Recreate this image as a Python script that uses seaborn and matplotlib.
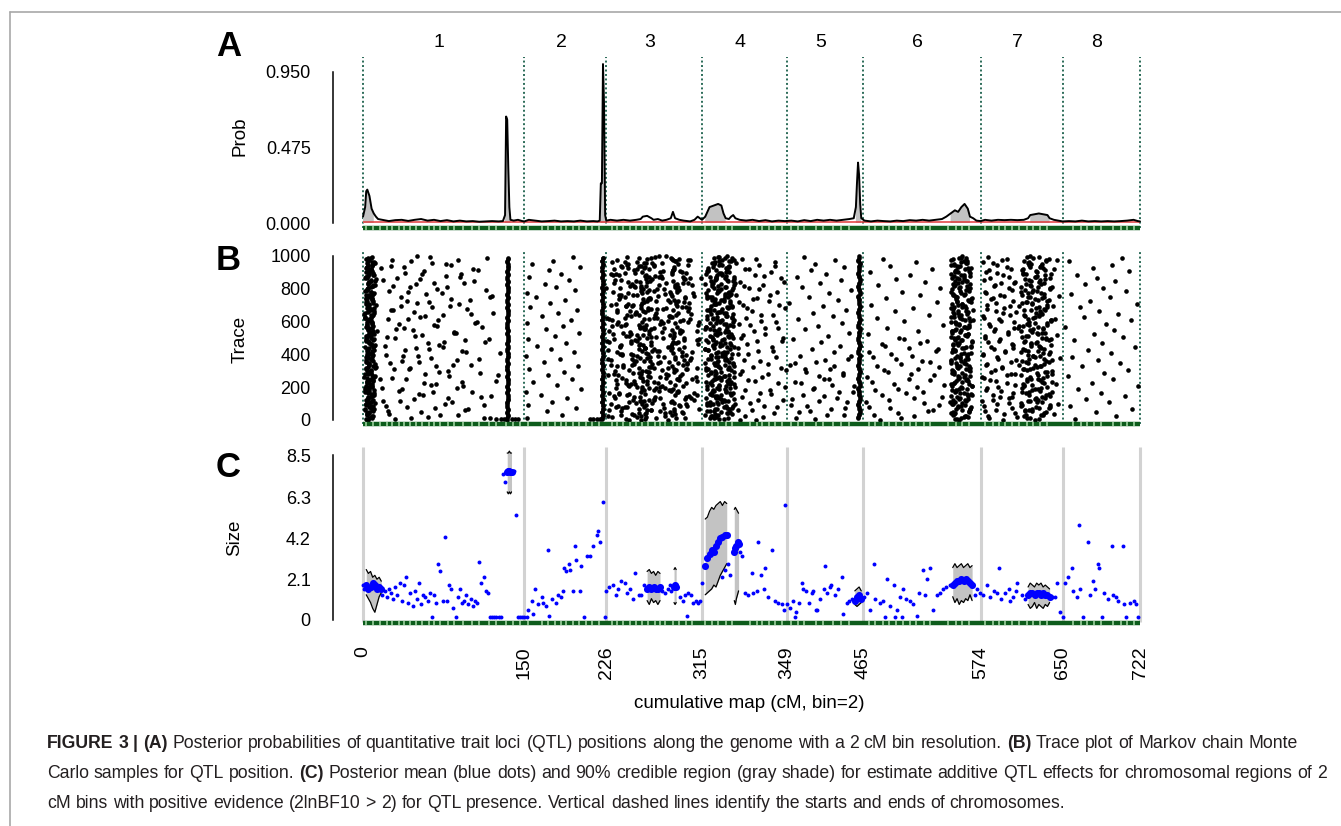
import numpy as np
import pandas as pd
import matplotlib
matplotlib.use("Agg")
import matplotlib.pyplot as plt
from matplotlib.lines import Line2D
import seaborn as sns

# chromosome boundaries (cM); the figure prints "349" at the 394 cM boundary
chrom_bounds = [0, 150, 226, 315, 394, 465, 574, 650, 722]
bound_labels = ["0", "150", "226", "315", "349", "465", "574", "650", "722"]
chrom_names = ["1", "2", "3", "4", "5", "6", "7", "8"]

# marker positions drawn in the green rug (cM)
marker_cm = [3, 9, 16, 22, 27, 33, 38, 44, 49, 55, 61, 66, 72, 79, 85, 93, 101, 108, 117, 124,
             133, 139, 146, 153, 166, 172, 178, 184, 189, 195, 201, 207, 213, 219, 231, 236, 242,
             248, 254, 259, 265, 271, 276, 281, 288, 294, 300, 306, 318, 324, 330, 337, 343, 360,
             366, 371, 377, 383, 389, 398, 404, 410, 421, 427, 437, 444, 452, 470, 476, 483, 489,
             495, 502, 508, 514, 521, 527, 544, 551, 557, 563, 578, 585, 591, 597, 603, 610, 617,
             623, 629, 636, 660, 667, 673, 679, 686, 697, 704, 710, 716]

# ---- panel A: posterior probability of a QTL per position ----
prob_cm = [0, 2, 3, 4, 5, 6, 7, 8, 10, 12, 14, 18, 24, 30, 36, 42, 48, 54, 60, 66,
           72, 78, 84, 90, 96, 102, 108, 114, 120, 126, 130, 132, 133, 134, 135, 136, 137, 140, 144, 148, 150,
           154, 160, 166, 172, 178, 184, 190, 196, 202, 208, 214, 218, 220, 221, 222, 223, 224, 225, 226,
           230, 236, 242, 248, 254, 258, 260, 264, 268, 270, 274, 278, 282, 286, 288, 290, 294, 298, 304, 308, 311, 313, 315,
           318, 320, 322, 326, 330, 333, 335, 337, 340, 342, 344, 346, 350, 356, 362, 368, 374, 380, 386, 392,
           398, 404, 410, 416, 422, 428, 434, 440, 446, 452, 456, 458, 459, 460, 461, 462, 463, 466,
           472, 478, 484, 490, 496, 502, 508, 514, 520, 526, 532, 538, 542, 546, 550, 553, 556, 559, 562, 564, 567, 570, 574,
           578, 584, 590, 596, 602, 608, 614, 618, 620, 624, 628, 632, 636, 638, 642, 646, 650,
           656, 662, 668, 674, 680, 686, 692, 698, 704, 710, 716, 720, 722]
prob_val = [0.04, 0.1, 0.2, 0.21, 0.19, 0.17, 0.13, 0.09, 0.06, 0.04, 0.025, 0.02, 0.012, 0.018, 0.02, 0.013, 0.02, 0.025, 0.015, 0.02,
            0.012, 0.018, 0.01, 0.015, 0.01, 0.012, 0.008, 0.01, 0.012, 0.01, 0.012, 0.05, 0.67, 0.65, 0.35, 0.1, 0.02, 0.015, 0.02, 0.012, 0.01,
            0.02, 0.015, 0.01, 0.012, 0.015, 0.01, 0.012, 0.01, 0.015, 0.01, 0.012, 0.01, 0.015, 0.25, 0.25, 1.0, 0.74, 0.05, 0.015,
            0.02, 0.015, 0.02, 0.015, 0.02, 0.025, 0.04, 0.045, 0.03, 0.02, 0.025, 0.015, 0.02, 0.03, 0.07, 0.03, 0.02, 0.015, 0.01, 0.02, 0.04, 0.03, 0.02,
            0.04, 0.07, 0.1, 0.11, 0.12, 0.11, 0.06, 0.03, 0.025, 0.04, 0.05, 0.03, 0.02, 0.015, 0.02, 0.012, 0.018, 0.01, 0.015, 0.012,
            0.015, 0.01, 0.018, 0.012, 0.02, 0.015, 0.02, 0.015, 0.02, 0.025, 0.03, 0.1, 0.25, 0.38, 0.3, 0.12, 0.03, 0.015,
            0.01, 0.015, 0.012, 0.01, 0.015, 0.012, 0.018, 0.015, 0.02, 0.015, 0.02, 0.025, 0.04, 0.06, 0.08, 0.07, 0.1, 0.12, 0.09, 0.04, 0.03, 0.015, 0.012,
            0.02, 0.015, 0.02, 0.018, 0.02, 0.018, 0.02, 0.03, 0.05, 0.055, 0.06, 0.055, 0.05, 0.03, 0.02, 0.015, 0.01,
            0.012, 0.01, 0.015, 0.01, 0.012, 0.01, 0.012, 0.01, 0.012, 0.015, 0.02, 0.012, 0.01]
prior_prob = 0.008
shade_from = [0, 132, 221, 318, 457, 546, 619]
shade_to = [10, 137, 225, 337, 463, 566, 638]

# ---- panel B: sampled QTL positions (cM), one value per 20 iterations ----
tr_chr1_peak_a = [5, 7, 4, 8, 6, 3, 9, 5, 7, 2, 6, 8, 4, 10, 5, 7, 3, 6, 9, 5, 4, 8, 6, 11, 3, 7, 5, 9, 6, 4,
                  8, 2, 7, 5, 10, 6, 3, 8, 5, 7, 4, 9, 6, 12, 5, 3, 7, 8, 4, 6]
tr_chr1_peak_b = [8, 4, 6, 10, 3, 7, 5, 9, 2, 6, 8, 4, 7, 11, 5, 3, 9, 6, 7, 4, 8, 5, 10, 6, 3, 7, 9, 5, 4, 8,
                  6, 2, 10, 7, 5, 3, 8, 6, 9, 4, 7, 5, 11, 3, 6, 8, 4, 9, 5, 7]
tr_chr1_peak_c = [3, 9, 6, 2, 7, 11, 4, 8, 5, 10, 3, 6, 9, 1, 7, 4, 12, 5, 8, 3, 6, 10, 2, 7, 9, 4, 6, 13, 3, 8,
                  5, 7, 1, 10, 4, 6, 9, 3, 8, 2, 5, 11, 7, 4, 9, 6, 3, 8, 10, 5]
tr_chr1_peak_d = [6, 4, 9, 7, 3, 8, 5, 10, 6, 2, 7, 9, 4, 8, 5, 11, 6, 3, 7, 9, 5, 4, 8, 6, 10, 3, 7, 5, 9, 4,
                  6, 8, 2, 7, 5, 9, 3, 6, 10, 4, 8, 5, 7, 3, 9, 6, 4, 11, 5, 8]
tr_chr1_peak_e = [4, 8, 5, 2, 9, 6, 3, 7, 10, 5, 8, 4, 6, 9, 2, 7, 5, 11, 3, 8, 6, 4, 9, 7, 5, 3, 10, 6, 8, 4,
                  7, 2, 9, 5, 6, 12, 4, 8, 3, 7, 5, 9, 6, 2, 10, 4, 7, 5, 8, 3]
tr_chr1_a = [45, 88, 23, 67, 112, 34, 79, 56, 101, 18, 63, 92, 40, 125, 71, 29, 84, 52, 108, 37, 96, 61, 20, 75, 117,
             48, 86, 31, 69, 104, 42, 58, 121, 26, 81, 50, 99, 35, 73, 114, 44, 66, 19, 90, 55, 107, 38, 77, 27, 62]
tr_chr1_b = [30, 72, 54, 98, 21, 83, 47, 119, 65, 36, 93, 57, 16, 80, 109, 43, 68, 25, 87, 51, 127, 39, 74, 60, 95,
             22, 85, 46, 111, 33, 70, 53, 100, 28, 64, 89, 41, 118, 59, 24, 78, 49, 103, 32, 91, 57, 17, 82, 45, 115]
tr_chr1_c = [60, 24, 95, 41, 76, 19, 110, 52, 33, 87, 68, 124, 27, 58, 79, 44, 100, 36, 63, 21, 92, 49, 71, 113, 30,
             55, 85, 38, 66, 106, 23, 74, 47, 97, 35, 61, 82, 120, 42, 69, 28, 94, 53, 77, 39, 102, 26, 64, 88, 50]
tr_q1 = [134, 135, 134, 135, 134, 134, 135, 135, 134, 135, 134, 135, 135, 134, 135, 134, 134, 135, 134, 135,
         135, 134, 135, 134, 135, 135, 134, 135, 134, 134, 135, 134, 135, 135, 134, 135, 134, 135, 134, 135,
         135, 134, 135, 134, 135, 134, 135, 135, 134, 135]
tr_chr2 = [152, 185, 171, 198, 153, 176, 190, 165, 151, 203, 180, 158, 194, 172, 187, 154, 200, 168, 183, 151,
           196, 175, 162, 189, 153, 178, 201, 170, 186, 152, 193, 166, 181, 199, 155, 174, 188, 161, 152, 197,
           179, 169, 191, 154, 184, 173, 202, 157, 177, 195]
tr_q2 = [222, 223, 222, 223, 223, 222, 223, 222, 223, 222, 222, 223, 222, 223, 223, 222, 223, 222, 222, 223,
         223, 222, 223, 222, 223, 222, 223, 223, 222, 223, 222, 223, 222, 222, 223, 223, 222, 223, 222, 223,
         222, 223, 223, 222, 223, 222, 222, 223, 222, 223]
tr_chr3_a = [231, 262, 289, 245, 300, 257, 276, 238, 293, 266, 249, 310, 259, 283, 234, 270, 297, 252, 264, 241,
             306, 287, 260, 229, 279, 255, 295, 268, 243, 302, 261, 285, 236, 273, 250, 291, 265, 308, 246, 280,
             258, 233, 298, 271, 253, 288, 240, 263, 304, 275]
tr_chr3_b = [258, 263, 256, 268, 261, 259, 266, 257, 262, 270, 255, 264, 260, 267, 258, 263, 256, 269, 261, 257,
             265, 259, 262, 268, 255, 264, 260, 266, 257, 263, 259, 270, 256, 262, 265, 258, 261, 267, 255, 264,
             260, 263, 257, 269, 262, 259, 266, 256, 261, 264]
tr_chr3_c = [291, 287, 296, 289, 294, 286, 299, 290, 293, 288, 297, 285, 292, 295, 289, 300, 287, 293, 290, 296,
             288, 294, 286, 291, 298, 289, 295, 287, 292, 290, 297, 285, 293, 288, 296, 291, 289, 299, 286, 294,
             290, 292, 288, 297, 287, 295, 289, 293, 291, 286]
tr_chr3_d = [244, 228, 281, 312, 237, 269, 251, 303, 229, 284, 247, 274, 235, 309, 256, 278, 242, 301, 230, 267,
             249, 286, 239, 311, 253, 272, 232, 296, 260, 244, 277, 227, 305, 248, 282, 235, 264, 299, 240, 270,
             226, 290, 254, 314, 238, 276, 246, 302, 231, 268]
tr_chr3_e = [272, 250, 240, 280, 230, 258, 305, 245, 275, 235, 290, 252, 282, 228, 266, 310, 242, 276, 250, 300,
             236, 270, 256, 288, 233, 247, 278, 262, 240, 312, 229, 284, 254, 268, 244, 303, 238, 274, 259, 292,
             248, 282, 234, 266, 300, 252, 241, 278, 288, 245]
tr_chr3_f = [247, 281, 263, 229, 295, 254, 308, 271, 238, 286, 259, 300, 244, 276, 233, 291, 266, 252, 304, 280,
             241, 269, 298, 257, 227, 288, 249, 310, 262, 236, 283, 273, 245, 302, 258, 230, 293, 267, 251, 285,
             239, 306, 264, 278, 232, 296, 255, 270, 243, 287]
tr_chr3_g = [299, 252, 276, 241, 263, 287, 234, 310, 258, 281, 246, 270, 293, 237, 265, 301, 250, 284, 228, 274,
             296, 256, 239, 268, 312, 244, 289, 261, 231, 279, 304, 249, 272, 236, 292, 259, 283, 243, 307, 266,
             253, 297, 240, 275, 230, 288, 262, 246, 302, 271]
tr_chr3_h = [262, 240, 285, 256, 301, 247, 270, 233, 292, 259, 278, 244, 306, 265, 251, 289, 236, 274, 298, 255,
             263, 228, 283, 249, 310, 268, 242, 295, 257, 276, 231, 287, 253, 265, 300, 246, 272, 239, 281, 258,
             293, 250, 267, 304, 235, 279, 261, 245, 290, 256]
tr_chr3_i = [255, 290, 268, 235, 279, 261, 300, 247, 286, 272, 253, 264, 241, 296, 259, 283, 230, 267, 305, 251,
             275, 262, 240, 293, 256, 285, 248, 270, 311, 237, 266, 291, 254, 279, 244, 298, 260, 287, 232, 273,
             252, 302, 263, 277, 243, 289, 258, 269, 236, 282]
tr_chr3_j = [283, 258, 297, 264, 243, 289, 270, 252, 308, 261, 276, 236, 294, 257, 282, 247, 268, 301, 254, 290,
             239, 273, 262, 287, 249, 298, 266, 229, 280, 256, 295, 243, 271, 260, 303, 251, 285, 266, 238, 292,
             258, 275, 246, 299, 263, 287, 233, 270, 255, 294]
tr_chr4_a = [322, 330, 326, 338, 320, 334, 328, 342, 324, 336, 331, 319, 340, 327, 333, 321, 345, 329, 337, 323,
             335, 318, 332, 341, 325, 339, 330, 322, 344, 328, 334, 320, 337, 326, 343, 331, 324, 339, 329, 321,
             336, 333, 327, 345, 319, 338, 325, 332, 340, 330]
tr_chr4_b = [335, 324, 341, 329, 337, 322, 333, 327, 344, 320, 331, 339, 326, 336, 323, 342, 330, 318, 338, 328,
             334, 321, 345, 332, 325, 340, 327, 337, 319, 335, 329, 343, 323, 333, 338, 326, 341, 322, 336, 330,
             344, 324, 339, 328, 334, 320, 337, 331, 342, 326]
tr_chr4_c = [328, 343, 320, 335, 325, 339, 331, 322, 337, 329, 345, 324, 333, 340, 327, 319, 336, 330, 342, 323,
             338, 326, 334, 321, 344, 329, 336, 318, 341, 332, 325, 338, 330, 322, 343, 327, 335, 320, 339, 333,
             324, 346, 328, 337, 331, 321, 340, 326, 334, 338]
tr_chr4_d = [350, 372, 338, 361, 385, 346, 367, 328, 379, 355, 392, 341, 364, 331, 376, 352, 388, 344, 369, 336,
             358, 381, 348, 325, 366, 390, 353, 339, 374, 360, 384, 343, 370, 332, 357, 387, 349, 362, 378, 340,
             368, 354, 391, 345, 373, 337, 359, 383, 347, 365]
tr_chr4_e = [326, 318, 333, 340, 322, 329, 345, 324, 337, 331, 320, 342, 327, 335, 323, 339, 330, 344, 321, 334,
             328, 341, 325, 336, 319, 343, 332, 326, 338, 322, 345, 329, 335, 320, 340, 327, 333, 324, 342, 330,
             337, 318, 344, 328, 334, 321, 339, 326, 331, 336]
tr_chr4_f = [331, 323, 339, 327, 344, 320, 335, 329, 341, 325, 337, 322, 333, 345, 328, 319, 340, 326, 336, 330,
             343, 321, 338, 327, 334, 324, 342, 329, 319, 337, 332, 325, 344, 322, 339, 328, 335, 320, 341, 331,
             326, 345, 323, 336, 329, 340, 321, 334, 327, 343]
tr_chr4_g = [339, 327, 322, 343, 330, 336, 319, 333, 326, 341, 324, 338, 329, 321, 345, 332, 327, 340, 323, 336,
             330, 318, 342, 328, 335, 322, 339, 331, 325, 344, 320, 337, 329, 334, 323, 341, 327, 336, 319, 343,
             330, 325, 338, 322, 333, 328, 340, 324, 345, 331]
tr_chr4_h = [365, 355, 382, 348, 373, 360, 390, 352, 369, 378, 346, 386, 358, 371, 350, 393, 362, 376, 354, 384,
             348, 367, 380, 357, 389, 351, 374, 363, 386, 349, 370, 356, 381, 361, 392, 353, 377, 366, 347, 385,
             359, 372, 350, 388, 364, 379, 355, 368, 383, 352]
tr_chr5_a = [402, 431, 415, 448, 398, 424, 440, 409, 455, 419, 436, 401, 428, 446, 412, 434, 397, 421, 451, 406,
             438, 417, 443, 426, 400, 432, 452, 411, 423, 445, 404, 437, 418, 449, 427, 396, 441, 414, 433, 453,
             408, 425, 444, 403, 430, 416, 447, 420, 439, 410]
tr_chr5_b = [420, 447, 405, 435, 413, 450, 399, 428, 442, 418, 456, 407, 433, 424, 446, 411, 438, 401, 429, 453]
tr_q5 = [460, 461, 462, 461, 460, 461, 462, 461, 461, 460, 462, 461, 460, 461, 462, 461, 460, 461, 461, 462,
         460, 461, 462, 461, 460, 461, 461, 462, 460, 461, 462, 461, 460, 461, 462, 461, 461, 460, 462, 461,
         460, 461, 462, 461, 460, 461, 461, 462, 460, 461]
tr_chr6_a = [480, 512, 497, 530, 470, 521, 489, 538, 505, 476, 515, 493, 527, 468, 509, 484, 535, 500, 519, 474,
             491, 532, 507, 482, 524, 498, 469, 516, 487, 539, 503, 478, 526, 494, 511, 472, 533, 486, 518, 501,
             536, 479, 522, 495, 508, 471, 529, 490, 514, 483]
tr_chr6_b = [500, 475, 525, 490, 535, 467, 512, 482, 520, 497, 540, 473, 507, 531, 488, 516, 478, 527, 495, 510,
             470, 534, 485, 518, 503]
tr_chr6_band_a = [552, 560, 548, 564, 556, 550, 562, 546, 558, 554, 566, 549, 561, 553, 557, 547, 563, 551, 559, 555,
                  565, 548, 560, 552, 556, 546, 562, 550, 558, 554, 567, 549, 561, 553, 557, 547, 563, 551, 559, 555,
                  564, 548, 560, 552, 556, 550, 562, 546, 558, 554]
tr_chr6_band_b = [558, 549, 563, 553, 547, 560, 555, 565, 551, 557, 546, 562, 554, 559, 548, 564, 552, 556, 550, 561,
                  547, 558, 553, 566, 549, 560, 555, 551, 563, 546, 557, 554, 562, 548, 559, 552, 565, 550, 556, 547,
                  561, 553, 558, 549, 564, 551, 555, 560, 546, 557]
tr_chr6_band_c = [554, 562, 550, 557, 565, 548, 559, 552, 561, 547, 556, 563, 551, 558, 549, 564, 553, 560, 546, 555,
                  562, 550, 557, 548, 566, 552, 559, 547, 561, 554, 550, 563, 556, 548, 560, 553, 565, 551, 558, 546,
                  562, 549, 557, 554, 564, 550, 559, 552, 561, 548]
tr_chr6_band_d = [556, 548, 563, 551, 559, 545, 554, 566, 550, 561, 547, 557, 553, 564, 549, 560, 555, 546, 562, 552,
                  558, 548, 565, 554, 550, 561, 547, 556, 563, 551, 559, 546, 553, 567, 549, 557, 562, 552, 548, 560,
                  555, 564, 550, 558, 546, 563, 553, 549, 561, 556]
tr_chr6_band_e = [550, 559, 546, 564, 553, 557, 548, 562, 555, 551, 566, 549, 560, 554, 547, 563, 552, 558, 546, 561,
                  556, 550, 565, 548, 557, 553, 562, 547, 559, 551, 564, 555, 549, 560, 546, 557, 552, 566, 548, 563,
                  554, 550, 561, 547, 558, 553, 565, 549, 556, 560]
tr_chr7_a = [582, 596, 578, 603, 589, 575, 600, 585, 593, 580, 606, 588, 577, 598, 584, 594, 579, 602, 590, 576,
             597, 586, 604, 581, 592, 578, 599, 587, 583, 605, 591, 576, 595, 580, 601, 588, 584, 596, 579, 603,
             586, 593, 577, 600, 589, 582, 598, 585, 594, 581]
tr_chr7_b = [595, 581, 606, 588, 577, 600, 585, 592, 604, 579, 590, 598, 583, 575, 602, 587, 594, 580, 607, 589,
             576, 597, 584, 603, 591, 578, 599, 586, 605, 582, 593, 577, 601, 588, 596, 580, 604, 585, 592, 578,
             600, 587, 606, 583, 595, 579, 602, 589, 576, 598]
tr_chr7_band_a = [620, 632, 615, 628, 638, 618, 625, 635, 612, 630, 622, 640, 617, 627, 634, 614, 624, 637, 619, 629,
                  611, 633, 621, 626, 639, 616, 631, 623, 613, 636, 618, 628, 625, 634, 610, 622, 637, 620, 630, 615,
                  627, 633, 619, 624, 639, 612, 629, 621, 635, 617]
tr_chr7_band_b = [628, 616, 635, 622, 611, 631, 624, 638, 619, 627, 614, 633, 621, 636, 626, 613, 630, 618, 640, 623,
                  632, 615, 629, 625, 637, 612, 634, 620, 627, 617, 639, 624, 631, 614, 628, 622, 636, 618, 633, 626,
                  611, 630, 621, 638, 616, 625, 632, 619, 635, 623]
tr_chr7_band_c = [608, 642, 615, 625, 646, 620, 603, 637, 629, 612, 644, 617, 632, 606, 640, 623, 610, 635, 648, 618,
                  627, 604, 639, 614, 631, 645, 622, 609, 636, 619, 643, 628, 607, 633, 641, 616, 624, 647, 611, 638,
                  621, 605, 634, 626, 613, 642, 630, 618, 645, 620]
tr_chr7_band_d = [624, 614, 633, 619, 638, 611, 627, 631, 616, 622, 636, 613, 629, 620, 640, 617, 626, 633, 612, 624,
                  637, 618, 630, 621, 615, 635, 627, 611, 632, 619, 639, 623, 614, 629, 625, 636, 617, 631, 612, 622,
                  638, 620, 628, 615, 634, 626, 613, 630, 619, 637]
tr_chr7_band_e = [617, 630, 622, 637, 612, 626, 634, 619, 640, 624, 614, 631, 627, 611, 636, 620, 629, 616, 633, 623,
                  638, 613, 628, 621, 635, 618, 626, 632, 610, 624, 639, 615, 630, 621, 636, 612, 627, 633, 618, 623,
                  640, 616, 629, 625, 613, 634, 620, 631, 614, 628]
tr_chr8 = [662, 700, 681, 715, 657, 693, 672, 708, 686, 664, 720, 677, 697, 655, 689, 711, 668, 703, 683, 659,
           695, 674, 717, 687, 661, 706, 679, 698, 652, 690, 714, 670, 702, 684, 666, 719, 676, 694, 658, 709,
           688, 671, 699, 682, 663, 712, 678, 696, 656, 705]
# burn-in samples at the bottom of the trace
burn_cm = [112, 118, 124, 128, 131, 138, 141, 144, 211, 214, 217, 220]
burn_iter = [12, 10, 9, 8, 6, 5, 7, 4, 6, 5, 7, 6]

# ---- panel C: posterior mean QTL effect per bin ----
eff1_cm = [0, 1, 18, 20, 22, 24, 26, 28, 30, 32, 34, 36, 38, 40, 42, 44, 46, 48, 50, 52, 54, 56, 58, 60, 62, 64,
           66, 68, 70, 72, 74, 76, 78, 80, 82, 84, 86, 88, 90, 92, 94, 96, 98, 100, 102, 104, 106, 108, 110, 112,
           114, 116, 118, 120, 122, 124, 126, 128, 130, 132, 140, 142, 144, 146, 148]
eff1_val = [1.8, 1.6, 1.3, 1.5, 1.2, 1.6, 1.4, 1.1, 1.7, 1.3, 1.9, 1.0, 1.8, 2.2, 0.9, 1.4, 0.7, 1.5, 1.1, 1.9, 0.8,
            1.3, 1.2, 1.0, 1.4, 0.15, 1.3, 0.9, 2.9, 2.5, 1.0, 4.3, 1.0, 1.8, 1.6, 0.6, 0.15, 1.2, 1.6, 0.9, 1.0,
            1.3, 0.8, 1.1, 0.7, 1.0, 0.9, 3.0, 1.9, 2.2, 1.5, 1.4, 0.15, 0.15, 0.15, 0.15, 0.15, 0.15, 7.5, 7.1,
            7.7, 5.4, 0.15, 0.15, 0.15]
eff2_cm = [150, 152, 153, 157, 158, 160, 163, 166, 167, 170, 172, 173, 176, 179, 181, 184, 186, 187, 189, 191,
           192, 195, 197, 198, 202, 203, 205, 208, 211, 214, 217, 218, 220, 223]
eff2_val = [0.15, 0.15, 0.5, 1.0, 0.3, 1.6, 0.8, 1.2, 0.9, 0.7, 3.6, 0.2, 1.1, 0.9, 1.3, 1.2, 1.5, 2.7, 2.5, 2.9,
            2.6, 1.5, 3.8, 3.1, 1.5, 2.8, 0.15, 3.3, 3.3, 3.8, 4.4, 4.6, 4.0, 6.1]
eff3_cm = [225, 226, 229, 232, 235, 237, 240, 243, 245, 248, 251, 253, 256, 258, 261, 278, 281, 283, 285, 286,
           295, 297, 299, 301, 302, 305, 307, 309, 311, 313]
eff3_val = [0.15, 1.5, 1.7, 1.8, 1.3, 1.6, 2.0, 1.9, 1.4, 1.6, 1.1, 2.4, 1.3, 1.3, 1.8, 1.5, 1.4, 1.6, 1.8, 1.5,
            1.2, 1.0, 1.3, 0.2, 1.4, 1.3, 0.9, 1.0, 0.9, 1.0]
eff4_cm = [315, 334, 336, 339, 341, 350, 352, 355, 358, 361, 362, 366, 367, 370, 373, 374, 376, 380, 383, 386, 389, 391]
eff4_val = [1.9, 2.2, 2.6, 2.9, 2.3, 3.5, 3.3, 1.4, 1.3, 2.4, 1.4, 1.5, 4.0, 2.3, 1.6, 2.7, 1.2, 3.6, 1.0, 0.9, 0.8, 0.5]
eff5_cm = [392, 394, 397, 400, 401, 402, 405, 408, 409, 412, 414, 417, 418, 421, 422, 425, 428, 429, 431, 434,
           435, 439, 441, 445, 446, 450, 452, 454]
eff5_val = [5.9, 0.8, 0.6, 1.0, 0.15, 0.4, 0.9, 1.9, 1.6, 1.5, 0.9, 1.4, 1.5, 0.5, 0.5, 1.1, 1.6, 2.8, 1.4, 1.7,
            1.8, 1.3, 1.6, 2.2, 0.3, 0.9, 1.0, 1.1]
eff6_cm = [466, 468, 471, 475, 476, 480, 483, 485, 487, 490, 493, 494, 496, 499, 501, 502, 505, 508, 511, 515,
           517, 520, 522, 524, 527, 530, 533, 536, 539, 542, 545]
eff6_val = [1.2, 1.4, 0.5, 2.9, 1.1, 0.9, 1.0, 0.15, 2.1, 0.7, 1.8, 0.15, 0.5, 1.2, 0.15, 1.6, 1.1, 1.0, 0.8, 0.2,
            1.4, 2.6, 1.3, 2.1, 2.7, 0.5, 1.3, 1.4, 1.6, 1.7, 1.8]
eff7_cm = [569, 571, 573, 576, 580, 583, 586, 589, 591, 593, 597, 600, 601, 604, 607, 608, 612, 615, 640]
eff7_val = [1.3, 1.6, 1.4, 1.3, 1.8, 1.2, 1.5, 1.4, 2.7, 1.1, 1.4, 1.6, 1.0, 1.2, 1.5, 1.9, 1.3, 1.1, 1.2]
eff8_cm = [643, 645, 648, 650, 652, 655, 659, 660, 663, 665, 666, 669, 674, 676, 678, 680, 683, 684, 687, 689,
           692, 696, 697, 700, 702, 706, 707, 709, 713, 716, 718, 720]
eff8_val = [1.2, 1.9, 0.4, 0.15, 1.9, 2.2, 2.7, 1.5, 1.2, 4.9, 1.6, 0.15, 4.0, 1.3, 2.0, 1.6, 2.9, 2.7, 0.15, 1.4,
            1.1, 3.8, 1.3, 1.2, 1.0, 3.8, 0.8, 0.15, 0.9, 1.0, 0.8, 0.15]

# 90% credible regions (one row per QTL region)
ci_cm = [[3, 5, 7, 9, 11, 13, 15, 17],
         [134, 135, 136, 137, 138],
         [264, 266, 268, 270, 272, 274, 276],
         [289, 290, 291],
         [318, 320, 322, 324, 326, 328, 330, 332, 334, 336, 338],
         [345, 346, 347, 348, 349],
         [457, 459, 461, 463],
         [548, 550, 552, 554, 556, 558, 560, 562, 564, 566],
         [618, 620, 622, 624, 626, 628, 630, 632, 634, 636, 638]]
ci_mean = [[1.8, 1.6, 1.7, 1.9, 1.8, 1.6, 1.7, 1.6],
           [7.6, 7.7, 7.7, 7.6, 7.6],
           [1.6, 1.7, 1.6, 1.7, 1.6, 1.6, 1.7],
           [1.7, 1.8, 1.7],
           [2.8, 3.2, 3.4, 3.6, 3.5, 3.8, 4.0, 4.2, 4.3, 4.4, 4.4],
           [3.5, 3.7, 3.8, 4.0, 3.9],
           [1.0, 1.2, 1.3, 1.1],
           [1.8, 1.9, 2.0, 2.0, 2.1, 2.0, 2.1, 2.0, 1.9, 1.8],
           [1.3, 1.4, 1.4, 1.3, 1.4, 1.4, 1.3, 1.4, 1.3, 1.3, 1.2]]
ci_lo = [[1.3, 1.1, 0.9, 0.6, 0.4, 0.8, 1.2, 1.4],
         [6.6, 6.5, 6.6, 6.5, 6.6],
         [1.0, 0.8, 1.1, 0.9, 1.0, 0.8, 1.0],
         [0.9, 0.8, 0.9],
         [1.3, 1.4, 1.5, 1.6, 1.8, 1.7, 2.0, 2.3, 2.5, 2.7, 2.9],
         [1.0, 0.8, 1.1, 1.3, 1.5],
         [0.8, 0.7, 0.8, 0.9],
         [1.2, 0.9, 1.1, 0.8, 1.0, 0.9, 1.1, 1.0, 1.3, 1.0],
         [0.8, 0.6, 0.7, 0.9, 0.6, 0.8, 0.7, 0.6, 0.8, 0.7, 0.9]]
ci_hi = [[2.6, 2.4, 2.5, 2.2, 2.3, 2.1, 2.2, 2.0],
         [8.6, 8.6, 8.7, 8.6, 8.6],
         [2.5, 2.6, 2.4, 2.5, 2.3, 2.5, 2.4],
         [2.6, 2.7, 2.6],
         [5.2, 5.3, 5.6, 5.8, 5.7, 5.9, 6.0, 6.1, 5.9, 6.1, 6.0],
         [5.7, 5.8, 5.7, 5.6, 5.5],
         [1.5, 1.6, 1.7, 1.5],
         [2.7, 2.9, 2.7, 2.8, 2.9, 2.7, 2.8, 2.9, 2.7, 2.8],
         [1.7, 1.9, 1.8, 1.7, 1.9, 1.8, 1.9, 1.7, 1.8, 1.7, 1.6]]

caption_lines = [
    [("FIGURE 3 | (A)", True),
     ("Posterior probabilities of quantitative trait loci (QTL) positions along the genome with a 2 cM bin resolution.", False),
     ("(B)", True), ("Trace plot of Markov chain Monte", False)],
    [("Carlo samples for QTL position.", False), ("(C)", True),
     ("Posterior mean (blue dots) and 90% credible region (gray shade) for estimate additive QTL effects for chromosomal regions of 2", False)],
    [("cM bins with positive evidence (2lnBF10 > 2) for QTL presence. Vertical dashed lines identify the starts and ends of chromosomes.", False)],
]

# ------------------------------------------------------------------
sns.set_theme(style="white", rc={"axes.edgecolor": "black", "xtick.color": "black",
                                 "ytick.color": "black", "text.color": "black",
                                 "axes.labelcolor": "black"})
plt.rcParams["font.family"] = ["Liberation Sans", "DejaVu Sans"]

W, H = 1341, 826
X0, XS = 363.0, 777.0 / 722.0      # pixel of 0 cM and pixels per cM
AX_L, AX_R = 333, 1165
GREEN_DOT = "#2b6b58"
RUG = "#0d5c1c"

fig = plt.figure(figsize=(W / 100, H / 100), dpi=100)


def add_panel(top, bottom, tick_px, zero_px, tick_val):
    ax = fig.add_axes([AX_L / W, 1 - bottom / H, (AX_R - AX_L) / W, (bottom - top) / H])
    ax.set_xlim((AX_L - X0) / XS, (AX_R - X0) / XS)
    k = (zero_px - tick_px) / tick_val
    ax.set_ylim(-(bottom - zero_px) / k, tick_val + (tick_px - top) / k)
    ax.patch.set_alpha(0)
    return ax, k


def style_y(ax, ticks, labels, name, lab_x, lab_y, top, bottom):
    sns.despine(ax=ax, top=True, right=True, bottom=True)
    ax.spines["left"].set_bounds(ticks[0], ticks[-1])
    ax.spines["left"].set_linewidth(1.1)
    ax.set_yticks(ticks, labels)
    ax.tick_params(axis="y", length=7, width=1.1, pad=9, labelsize=13)
    ax.set_xticks([])
    ax.set_ylabel(name, fontsize=13.5)
    ax.yaxis.set_label_coords((lab_x - AX_L) / (AX_R - AX_L), (bottom - lab_y) / (bottom - top))
    ax.yaxis.label.set_va("center")


def add_rug(ax, y, lw=3.2):
    ax.hlines(y, chrom_bounds[0], chrom_bounds[-1], color=RUG, lw=lw, zorder=5)
    ax.plot(marker_cm, [y] * len(marker_cm), ls="", marker="|", ms=2.6, mew=1.1,
            color="#a9dba9", zorder=6)


# ---------------- panel A ----------------
axA, kA = add_panel(55, 232, 72, 223, 0.95)
style_y(axA, [0, 0.475, 0.95], ["0.000", "0.475", "0.950"], "Prob", 240, 136, 55, 232)
cm_arr = np.array(prob_cm)
val_arr = np.array(prob_val)
mask = np.zeros(len(cm_arr), dtype=bool)
for a, b in zip(shade_from, shade_to):
    mask |= (cm_arr >= a) & (cm_arr <= b)
axA.fill_between(cm_arr, 0, val_arr, where=mask, color="#c2c2c2", lw=0, zorder=1)
axA.hlines(prior_prob, chrom_bounds[0], chrom_bounds[-1], color="#e03a3a", lw=1.1, zorder=2)
sns.lineplot(x=prob_cm, y=prob_val, ax=axA, color="black", lw=1.4, estimator=None,
             sort=False, zorder=3)
rugA = -(228 - 223) / kA
axA.vlines(chrom_bounds, rugA, 0.95 + (72 - 57) / kA, colors=GREEN_DOT, lw=1.4,
           linestyles=(0, (1, 1.3)), zorder=0)
add_rug(axA, rugA)
for i, name in enumerate(chrom_names):
    mid = (chrom_bounds[i] + chrom_bounds[i + 1]) / 2 - 4
    axA.text(mid, 0.95 + (72 - 47) / kA, name, ha="center", va="baseline", fontsize=14)
axA.set_xlabel("")

# ---------------- panel B ----------------
axB, kB = add_panel(250, 428, 256, 420, 1000)
style_y(axB, [0, 200, 400, 600, 800, 1000], ["0", "200", "400", "600", "800", "1000"],
        "Trace", 240, 330, 250, 428)
trace_sets = [tr_chr1_peak_a, tr_chr1_peak_b, tr_chr1_peak_c, tr_chr1_peak_d, tr_chr1_peak_e,
              tr_chr1_a, tr_chr1_b, tr_chr1_c, tr_q1, tr_chr2, tr_q2,
              tr_chr3_a, tr_chr3_b, tr_chr3_c, tr_chr3_d, tr_chr3_e, tr_chr3_f, tr_chr3_g,
              tr_chr3_h, tr_chr3_i, tr_chr3_j,
              tr_chr4_a, tr_chr4_b, tr_chr4_c, tr_chr4_d, tr_chr4_e, tr_chr4_f, tr_chr4_g, tr_chr4_h,
              tr_chr5_a, tr_chr5_b, tr_q5, tr_chr6_a, tr_chr6_b,
              tr_chr6_band_a, tr_chr6_band_b, tr_chr6_band_c, tr_chr6_band_d, tr_chr6_band_e,
              tr_chr7_a, tr_chr7_b, tr_chr7_band_a, tr_chr7_band_b, tr_chr7_band_c,
              tr_chr7_band_d, tr_chr7_band_e, tr_chr8]
offsets = [0, 10, 5, 15, 3, 13, 8, 18, 2, 12, 7, 17]
rows = []
for j, lst in enumerate(trace_sets):
    off = offsets[j % len(offsets)]
    for i, pos in enumerate(lst[:50]):
        rows.append((pos, off + 20 * i))
for pos, it in zip(burn_cm, burn_iter):
    rows.append((pos, it))
trace = pd.DataFrame(rows, columns=["cm", "iter"])
# the solid QTL columns get an extra pass so they read as continuous lines
cols = pd.DataFrame([(p, 10 + 20 * i) for lst in (tr_q1, tr_q2, tr_q5) for i, p in enumerate(lst[:50])],
                    columns=["cm", "iter"])
trace = pd.concat([trace, cols], ignore_index=True)
sns.scatterplot(data=trace, x="cm", y="iter", ax=axB, s=11, color="black", linewidth=0,
                legend=False, zorder=3)
rugB = -(424 - 420) / kB
axB.vlines(chrom_bounds, rugB, 1000 + (256 - 250) / kB, colors=GREEN_DOT, lw=1.4,
           linestyles=(0, (1, 1.3)), zorder=1)
add_rug(axB, rugB)
axB.set_xlabel("")
axB.set_ylabel("Trace", fontsize=13.5)

# ---------------- panel C ----------------
axC, kC = add_panel(447, 628, 455, 620, 8.5)
style_y(axC, [0, 2.1, 4.2, 6.3, 8.5], ["0", "2.1", "4.2", "6.3", "8.5"], "Size", 235, 527, 447, 628)
axC.set_yticks([1.05, 3.15, 5.25, 7.4], minor=True)
axC.tick_params(axis="y", which="minor", length=4, width=1.0)
axC.vlines(chrom_bounds, -(622 - 620) / kC, 8.5 + (455 - 447) / kC, colors="#d2d2d2", lw=2.2, zorder=0)
for cm, lo, hi in zip(ci_cm, ci_lo, ci_hi):
    axC.fill_between(cm, lo, hi, color="#c3c3c3", lw=0, zorder=1)
    axC.plot(cm, lo, color="black", lw=0.9, zorder=2)
    axC.plot(cm, hi, color="black", lw=0.9, zorder=2)
eff_cm = eff1_cm + eff2_cm + eff3_cm + eff4_cm + eff5_cm + eff6_cm + eff7_cm + eff8_cm
eff_val = eff1_val + eff2_val + eff3_val + eff4_val + eff5_val + eff6_val + eff7_val + eff8_val
sns.scatterplot(x=eff_cm, y=eff_val, ax=axC, s=8, color="#0000ff", linewidth=0, legend=False, zorder=3)
sns.scatterplot(x=sum(ci_cm, []), y=sum(ci_mean, []), ax=axC, s=26, color="#0000ff",
                linewidth=0, legend=False, zorder=4)
add_rug(axC, -(622 - 620) / kC - 0.03)
axC.set_xticks(chrom_bounds, bound_labels, rotation=90, fontsize=14)
axC.tick_params(axis="x", length=0, pad=13)
axC.set_ylabel("Size", fontsize=13.5)
fig.text(749 / W, 1 - 703 / H, "cumulative map (cM, bin=2)", fontsize=13.5, ha="center", va="center")

# panel letters
for letter, base in (("A", 56), ("B", 270), ("C", 477)):
    fig.text(216 / W, 1 - base / H, letter, fontsize=25, fontweight="bold", va="baseline", ha="left")

# frame lines around the figure
fig.add_artist(Line2D([10 / W, 1], [1 - 12 / H, 1 - 12 / H], color="#a8a8a8", lw=1.2))
fig.add_artist(Line2D([10 / W, 10 / W], [0, 1 - 12 / H], color="#a8a8a8", lw=1.2))

# caption
cap_family = ["Liberation Sans Narrow", "Liberation Sans", "DejaVu Sans"]
cap_color = "#231f20"
renderer = fig.canvas.get_renderer()


def text_width(s, size, bold=False):
    t = fig.text(0, 0, s, fontsize=size, family=cap_family, fontweight="bold" if bold else "normal")
    w = t.get_window_extent(renderer).width
    t.remove()
    return w


full2 = " ".join(t for t, _ in caption_lines[1])
cap_size = min(14.5, 13.0 * 1281 / text_width(full2, 13.0))
space = text_width("n n", cap_size) - text_width("nn", cap_size)
for line, base in zip(caption_lines, (748, 778, 808)):
    x = 47.0
    for txt, bold in line:
        for word in txt.split(" "):
            t = fig.text(x / W, 1 - base / H, word, fontsize=cap_size, family=cap_family,
                         fontweight="bold" if bold else "normal", color=cap_color,
                         va="baseline", ha="left")
            x += t.get_window_extent(renderer).width + space

fig.savefig("out.png", dpi=100)
